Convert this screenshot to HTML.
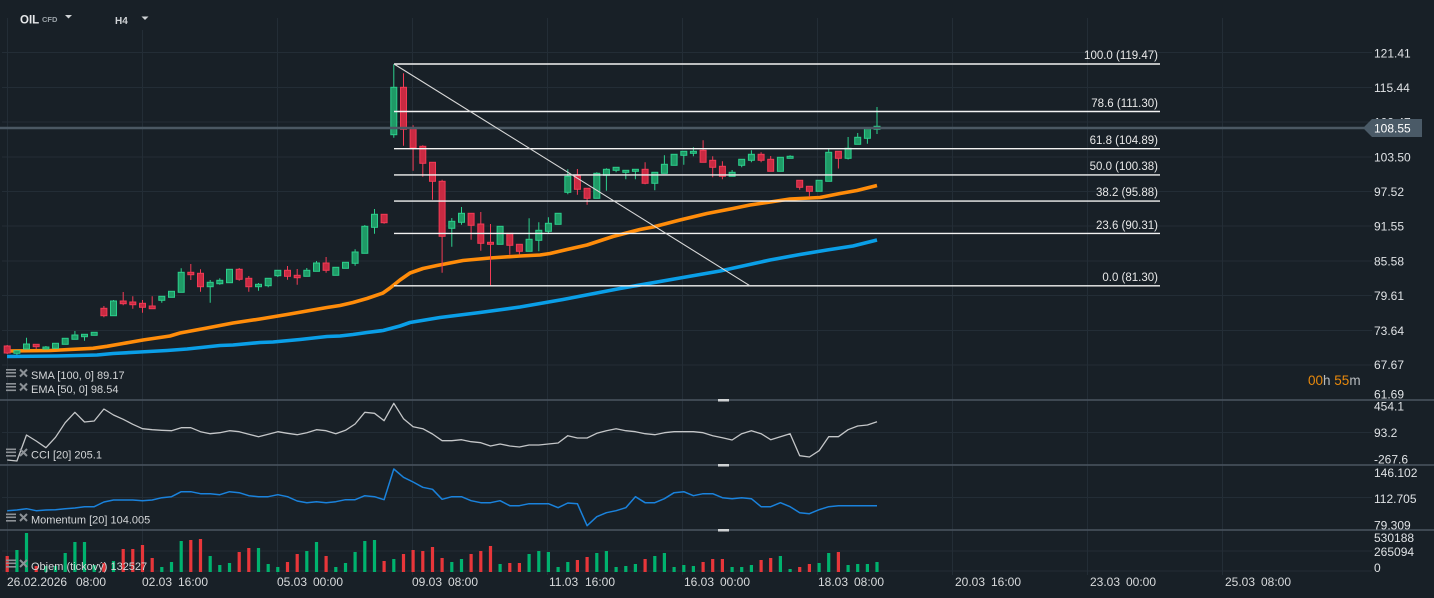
<!DOCTYPE html>
<html><head><meta charset="utf-8"><style>
html,body{margin:0;padding:0;background:#182027;width:1434px;height:598px;overflow:hidden}
svg{display:block;font-family:"Liberation Sans",Arial,sans-serif}
.g{fill:#1f9a66;stroke:#2ccf8c;stroke-width:1}
.r{fill:#c92a42;stroke:#f23b55;stroke-width:1}
.ax{fill:#dfe2e5;font-size:12px}
.fb{fill:#e8e8e8;font-size:11.5px;text-anchor:end}
.dl{fill:#d8dadc;font-size:12px}
.il{fill:#d4d6d8;font-size:11px}
</style></head><body>
<svg width="1434" height="598" viewBox="0 0 1434 598" xmlns="http://www.w3.org/2000/svg">
<rect width="1434" height="598" fill="#182027"/>
<!-- grid -->
<path stroke="#232d36" stroke-width="1" fill="none" d="M2 52.5H1372M2 87.5H1372M2 122H1372M2 157H1372M2 191.5H1372M2 226H1372M2 261H1372M2 295.5H1372M2 330.5H1372M2 365H1372M2 432.5H1372M2 497.5H1372M2 551H1372M2 571H1372
M7.5 18V575M142.5 30V575M277.5 18V575M412.5 18V575M547.5 18V575M682.5 18V575M817.5 18V575M952.5 18V575M1087.5 18V575M1222.5 18V575"/>
<!-- separators -->
<path stroke="#4a5560" stroke-width="1.5" d="M0 400H1434M0 465H1434M0 530H1434"/>
<rect x="718" y="399" width="11" height="2.5" fill="#cfd2d4"/>
<rect x="718" y="464" width="11" height="2.5" fill="#cfd2d4"/>
<rect x="718" y="529" width="11" height="2.5" fill="#cfd2d4"/>

<!-- SMA 100 blue -->
<polyline fill="none" stroke="#0a9fe8" stroke-width="3.6" stroke-linejoin="round" points="7,356.5 57,356 97,355 113,353.5 140,352 167,350.5 187,349 220,345.5 233,345 260,342.5 273,342 300,339.5 327,336.5 340,336 353,334.5 367,332.5 383,330.5 400,326 410,322.5 440,317.5 480,312.5 520,307 563,299.5 620,288.5 680,278 720,271 770,260 800,254.5 827,250 853,246 877,240"/>
<!-- EMA 50 orange -->
<polyline fill="none" stroke="#ff8c0a" stroke-width="3.6" stroke-linejoin="round" points="7,351 50,350.5 93,348.3 107,346.3 123,343.5 143,340 170,336 180,333 207,328 233,323 260,319 287,314.5 307,311 327,307.5 340,305.5 353,302.5 367,298.5 383,293 390,288 400,280 410,273 423,268.5 437,265.5 463,260.5 490,258 520,256 540,255 550,253.5 567,249.5 587,245 613,236.5 640,229.5 653,227 680,220 707,213.5 733,208.5 750,205 767,202.5 790,199 820,197.5 840,193.5 857,190.5 877,185.5"/>

<!-- wicks -->
<path fill="none" stroke="#2ccf8c" stroke-width="1" d="M16.9 350V355M26.5 337.7V349M45.9 346V349.5M55.5 343V348.5M65.2 338V344.5M74.9 331V339.5M84.5 334V340.7M94.2 332V335.5M113.5 300V316M161.8 296V302.7M171.5 291V297.5M181.2 268.3V292.5M210.2 280V302.7M219.8 278.3V284.7M229.5 269V283M258.5 283V290.7M268.2 278V287.3M277.8 270V277M306.8 268V276.5M316.5 261V271.5M335.8 267V275.5M345.5 262V268.5M355.1 249.3V265.7M364.8 225V253.5M374.5 209V233.7M393.8 64.3V137.7M451.8 218V246.7M461.5 207V224.7M500.1 226V244.5M529.1 218.3V251.5M538.8 222.3V251.3M548.4 217.3V233.3M558.1 213V224.5M567.8 169.3V194.3M596.8 172.3V198.5M606.4 168.3V190.7M616.1 167V172.3M625.8 170V179.3M635.4 169V179.3M654.8 172V190.3M664.4 155.3V173.5M674.1 154V165.5M683.8 151V164.7M693.4 147.3V156.3M732.1 170V176.5M741.7 159V167.3M751.4 150.3V162.3M780.4 157V171.5M790.1 155.3V158.5M819.1 180V191.5M828.7 148.3V181.5M848.1 137V159.5M857.7 133V144.5M867.4 128V143.7M877 107V134"/>
<path fill="none" stroke="#f23b55" stroke-width="1" d="M7.2 345V354M36.2 344V349M103.9 306V317.3M123.2 292V305.3M132.8 296.3V308.7M142.5 300V312.7M152.2 296.3V308.7M190.8 264V280M200.5 269.3V291.7M239.2 268V280.7M248.8 276V291.7M287.5 266V279.7M297.2 269V284.7M326.1 257V272.7M384.1 214V223.7M403.5 73.3V145.7M413.1 125.3V170.7M422.8 145.3V176.7M432.5 162V199.7M442.1 179.7V272.7M471.1 213V239.7M480.8 212V250.7M490.5 224V285.7M509.8 233V254.7M519.4 244V254.7M577.4 169V194.7M587.1 188V204.7M645.1 162.3V184.3M703.1 140.3V162.5M712.7 156.3V177.3M722.4 161.3V179.3M761.1 152.3V162.3M770.7 156V171.5M799.7 180V189.7M809.4 186V196.7M838.4 151V168.5"/>

<!-- bodies -->
<g>
<rect class="r" x="4.2" y="346" width="6" height="7"/>
<rect class="g" x="13.9" y="350.7" width="6" height="2.6"/>
<rect class="g" x="23.5" y="344" width="6" height="5"/>
<rect class="r" x="33.2" y="344.3" width="6" height="2.4"/>
<rect class="g" x="42.9" y="347" width="6" height="2"/>
<rect class="g" x="52.5" y="343.3" width="6" height="5"/>
<rect class="g" x="62.2" y="338.3" width="6" height="6"/>
<rect class="g" x="71.9" y="335" width="6" height="4.3"/>
<rect class="g" x="81.5" y="334.3" width="6" height="2.4"/>
<rect class="g" x="91.2" y="332.3" width="6" height="3"/>
<rect class="r" x="100.9" y="308.3" width="6" height="7.4"/>
<rect class="g" x="110.5" y="301" width="6" height="14.7"/>
<rect class="r" x="120.2" y="301" width="6" height="2.7"/>
<rect class="r" x="129.8" y="302" width="6" height="2.7"/>
<rect class="r" x="139.5" y="303.3" width="6" height="4"/>
<rect class="r" x="149.2" y="306" width="6" height="2.7"/>
<rect class="g" x="158.8" y="296.3" width="6" height="4"/>
<rect class="g" x="168.5" y="291.3" width="6" height="6"/>
<rect class="g" x="178.2" y="272.3" width="6" height="20"/>
<rect class="r" x="187.8" y="272.3" width="6" height="2.4"/>
<rect class="r" x="197.5" y="273.3" width="6" height="13.4"/>
<rect class="g" x="207.2" y="282.3" width="6" height="4.4"/>
<rect class="g" x="216.8" y="280.3" width="6" height="3.4"/>
<rect class="g" x="226.5" y="269.3" width="6" height="13.4"/>
<rect class="r" x="236.2" y="269.3" width="6" height="10"/>
<rect class="r" x="245.8" y="278.3" width="6" height="8.4"/>
<rect class="g" x="255.5" y="284.3" width="6" height="2.4"/>
<rect class="g" x="265.2" y="278.3" width="6" height="7.4"/>
<rect class="g" x="274.8" y="270.3" width="6" height="5.4"/>
<rect class="r" x="284.5" y="270.3" width="6" height="6"/>
<rect class="r" x="294.2" y="275.3" width="6" height="2.4"/>
<rect class="g" x="303.8" y="270.3" width="6" height="6"/>
<rect class="g" x="313.5" y="263" width="6" height="8.3"/>
<rect class="r" x="323.1" y="263" width="6" height="7.3"/>
<rect class="g" x="332.8" y="267.3" width="6" height="8"/>
<rect class="g" x="342.5" y="262.3" width="6" height="6"/>
<rect class="g" x="352.1" y="252" width="6" height="11.3"/>
<rect class="g" x="361.8" y="226.3" width="6" height="27"/>
<rect class="g" x="371.5" y="214.3" width="6" height="13"/>
<rect class="r" x="381.1" y="214.3" width="6" height="8.4"/>
<rect class="g" x="390.8" y="87.3" width="6" height="47.4"/>
<rect class="r" x="400.5" y="87.3" width="6" height="42"/>
<rect class="r" x="410.1" y="128.7" width="6" height="19"/>
<rect class="r" x="419.8" y="146.3" width="6" height="17"/>
<rect class="r" x="429.5" y="162.3" width="6" height="19"/>
<rect class="r" x="439.1" y="181.3" width="6" height="55"/>
<rect class="g" x="448.8" y="221.3" width="6" height="7"/>
<rect class="g" x="458.5" y="213.3" width="6" height="9"/>
<rect class="r" x="468.1" y="213.3" width="6" height="12"/>
<rect class="r" x="477.8" y="224" width="6" height="19.3"/>
<rect class="r" x="487.5" y="242.3" width="6" height="2"/>
<rect class="g" x="497.1" y="226.3" width="6" height="18"/>
<rect class="r" x="506.8" y="233.3" width="6" height="12"/>
<rect class="r" x="516.4" y="244.3" width="6" height="7"/>
<rect class="g" x="526.1" y="239.3" width="6" height="12"/>
<rect class="g" x="535.8" y="230.3" width="6" height="10"/>
<rect class="g" x="545.4" y="223.3" width="6" height="8"/>
<rect class="g" x="555.1" y="213.3" width="6" height="11"/>
<rect class="g" x="564.8" y="176.3" width="6" height="16"/>
<rect class="r" x="574.4" y="176" width="6" height="13.3"/>
<rect class="r" x="584.1" y="188.3" width="6" height="10"/>
<rect class="g" x="593.8" y="173.3" width="6" height="25"/>
<rect class="g" x="603.4" y="169.3" width="6" height="6"/>
<rect class="g" x="613.1" y="167.3" width="6" height="3"/>
<rect class="g" x="622.8" y="170.3" width="6" height="2"/>
<rect class="g" x="632.4" y="169.3" width="6" height="2"/>
<rect class="r" x="642.1" y="169.3" width="6" height="14"/>
<rect class="g" x="651.8" y="172.3" width="6" height="11"/>
<rect class="g" x="661.4" y="164.3" width="6" height="9"/>
<rect class="g" x="671.1" y="154.3" width="6" height="11"/>
<rect class="g" x="680.8" y="151.3" width="6" height="4"/>
<rect class="g" x="690.4" y="151.3" width="6" height="2"/>
<rect class="r" x="700.1" y="150.3" width="6" height="12"/>
<rect class="r" x="709.7" y="160.3" width="6" height="7"/>
<rect class="r" x="719.4" y="166.3" width="6" height="10"/>
<rect class="g" x="729.1" y="172.3" width="6" height="4"/>
<rect class="g" x="738.7" y="159.3" width="6" height="6"/>
<rect class="g" x="748.4" y="154.3" width="6" height="6"/>
<rect class="r" x="758.1" y="154.3" width="6" height="6"/>
<rect class="r" x="767.7" y="159.3" width="6" height="12"/>
<rect class="g" x="777.4" y="157.3" width="6" height="14"/>
<rect class="g" x="787.1" y="156.3" width="6" height="2"/>
<rect class="r" x="796.7" y="180.3" width="6" height="7"/>
<rect class="r" x="806.4" y="186.3" width="6" height="5"/>
<rect class="g" x="816.1" y="180.3" width="6" height="11"/>
<rect class="g" x="825.7" y="152.3" width="6" height="29"/>
<rect class="r" x="835.4" y="151.3" width="6" height="7"/>
<rect class="g" x="845.1" y="148.3" width="6" height="10"/>
<rect class="g" x="854.7" y="137.3" width="6" height="7"/>
<rect class="g" x="864.4" y="128.3" width="6" height="10"/>
<rect class="g" x="874" y="126.3" width="6" height="3"/>
</g>

<!-- current price line -->
<path stroke="#4b5863" stroke-width="2.6" d="M0 128H1364"/>

<!-- fibonacci -->
<path stroke="#f2f2f2" stroke-width="1.4" fill="none" d="M394 64H1160M394 111.5H1160M394 148.7H1160M394 174.9H1160M394 201.1H1160M394 233.4H1160M394 285.8H1160"/>
<path stroke="#d8d8d8" stroke-width="1.1" fill="none" d="M394 64L750 285.8"/>
<text class="fb" x="1158" y="59">100.0 (119.47)</text>
<text class="fb" x="1158" y="107">78.6 (111.30)</text>
<text class="fb" x="1158" y="144">61.8 (104.89)</text>
<text class="fb" x="1158" y="170">50.0 (100.38)</text>
<text class="fb" x="1158" y="196">38.2 (95.88)</text>
<text class="fb" x="1158" y="229">23.6 (90.31)</text>
<text class="fb" x="1158" y="281">0.0 (81.30)</text>

<!-- CCI -->
<polyline fill="none" stroke="#c4c6c8" stroke-width="1.3" stroke-linejoin="round" points="7.2,460 16.9,461 26.5,435 36.2,441 45.9,447.7 55.5,437.3 65.2,422.7 74.9,412.3 84.5,422 94.2,421 103.9,409 113.5,415 123.2,419.3 132.8,424.3 142.5,428.7 152.2,429.7 161.8,430.3 171.5,430.7 181.2,427.7 190.8,427.7 200.5,431.7 210.2,433.7 219.8,432.7 229.5,430.7 239.2,431.7 248.8,434.3 258.5,436.7 268.2,434.3 277.8,431.7 287.5,433.3 297.2,434.7 306.8,432.7 316.5,429.7 326.1,430.7 335.8,433.7 345.5,430.3 355.1,424 364.8,412.3 374.5,413.3 384.1,420.7 393.8,403.3 403.5,418.7 413.1,426.7 422.8,428.7 432.5,434 442.1,440.7 451.8,440.7 461.5,439.7 471.1,441.7 480.8,442.7 490.5,446 500.1,444 509.8,446 519.4,447 529.1,445 538.8,445 548.4,444 558.1,443 567.8,435.7 577.4,438 587.1,438 596.8,433.3 606.4,430.7 616.1,428.7 625.8,430.7 635.4,431.7 645.1,433.7 654.8,434.7 664.4,432.7 674.1,431.7 683.8,431.7 693.4,431.7 703.1,432.7 712.7,435.7 722.4,437.7 732.1,440 741.7,433.7 751.4,430.7 761.1,433.7 770.7,439.7 780.4,436.7 790.1,433.7 799.7,455.7 809.4,457 819.1,450.7 828.7,436.7 838.4,436.7 848.1,429.7 857.7,426 867.4,425 877,421.7"/>

<!-- Momentum -->
<polyline fill="none" stroke="#1a82dc" stroke-width="1.5" stroke-linejoin="round" points="7.2,510.7 16.9,510 26.5,508.7 36.2,510.7 45.9,510 55.5,509.7 65.2,508.7 74.9,508 84.5,506.7 94.2,506.7 103.9,502 113.5,500 123.2,500 132.8,500 142.5,500.7 152.2,500 161.8,497.7 171.5,496.7 181.2,491.7 190.8,491.7 200.5,493.7 210.2,493.7 219.8,494.7 229.5,491.7 239.2,492.7 248.8,495.7 258.5,496.7 268.2,496.7 277.8,494.7 287.5,496.7 297.2,501 306.8,502.7 316.5,501.7 326.1,502.7 335.8,501.7 345.5,499.7 355.1,499.7 364.8,495.7 374.5,496.7 384.1,499.7 393.8,469 403.5,477.3 413.1,482 422.8,487.3 432.5,489.3 442.1,499.3 451.8,496.7 461.5,496.7 471.1,500.7 480.8,502.7 490.5,502.7 500.1,500.7 509.8,505.7 519.4,505.7 529.1,503.7 538.8,503.7 548.4,503.7 558.1,507.7 567.8,503 577.4,503.7 587.1,525.7 596.8,516.7 606.4,512.7 616.1,510.7 625.8,507.7 635.4,496.7 645.1,502.7 654.8,502.7 664.4,498.7 674.1,492.7 683.8,491.7 693.4,495.7 703.1,493.7 712.7,493.7 722.4,497.7 732.1,498.7 741.7,497.7 751.4,498.7 761.1,506.7 770.7,506.7 780.4,502.7 790.1,506.7 799.7,512.7 809.4,513.7 819.1,509.7 828.7,506.7 838.4,505.7 848.1,505.7 857.7,505.7 867.4,505.7 877,505.7"/>

<!-- Volume -->
<path fill="none" stroke="#00b26e" stroke-width="3.2" d="M16.9 550V572M26.5 533V572M45.9 566V572M55.5 566V572M65.2 553V572M74.9 542V572M84.5 542V572M94.2 565V572M113.5 561V572M161.8 567V572M171.5 562V572M181.2 541V572M210.2 556V572M219.8 565V572M229.5 563V572M258.5 548V572M268.2 564V572M277.8 567V572M306.8 551V572M316.5 542V572M335.8 567V572M345.5 563V572M355.1 552V572M364.8 541V572M374.5 540V572M393.8 559V572M451.8 562V572M461.5 559V572M500.1 564V572M529.1 554V572M538.8 551V572M548.4 552V572M558.1 567V572M567.8 562V572M596.8 553V572M606.4 551V572M616.1 567V572M625.8 566V572M635.4 564V572M654.8 556V572M664.4 553V572M674.1 567V572M683.8 565V572M693.4 566V572M732.1 567V572M741.7 567V572M751.4 565V572M780.4 556V572M790.1 569V572M819.1 563V572M828.7 553V572M848.1 565V572M857.7 564V572M867.4 564V572M877 562V572"/>
<path fill="none" stroke="#e8363a" stroke-width="3.2" d="M7.2 556V572M36.2 566V572M103.9 563V572M123.2 549V572M132.8 549V572M142.5 545V572M152.2 558V572M190.8 540V572M200.5 539V572M239.2 552V572M248.8 548V572M287.5 562V572M297.2 554V572M326.1 556V572M384.1 561V572M403.5 554V572M413.1 550V572M422.8 551V572M432.5 547V572M442.1 558V572M471.1 554V572M480.8 551V572M490.5 546V572M509.8 563V572M519.4 563V572M577.4 560V572M587.1 557V572M645.1 559V572M703.1 562V572M712.7 559V572M722.4 559V572M761.1 560V572M770.7 558V572M799.7 567V572M809.4 564V572M838.4 552V572"/>

<!-- price axis -->
<text class="ax" x="1374" y="57.5">121.41</text>
<text class="ax" x="1374" y="92">115.44</text>
<text class="ax" x="1374" y="126.5">109.47</text>
<text class="ax" x="1374" y="161.3">103.50</text>
<text class="ax" x="1374" y="196">97.52</text>
<text class="ax" x="1374" y="230.7">91.55</text>
<text class="ax" x="1374" y="265.4">85.58</text>
<text class="ax" x="1374" y="300">79.61</text>
<text class="ax" x="1374" y="334.8">73.64</text>
<text class="ax" x="1374" y="369">67.67</text>
<text class="ax" x="1374" y="398.5">61.69</text>
<polygon points="1363,128 1372,119 1422,119 1422,137 1372,137" fill="#4a5a67"/>
<text x="1374" y="132.5" fill="#ffffff" font-size="12px">108.55</text>

<text class="ax" x="1374" y="410.5">454.1</text>
<text class="ax" x="1374" y="437">93.2</text>
<text class="ax" x="1374" y="463.5">-267.6</text>
<text class="ax" x="1374" y="477">146.102</text>
<text class="ax" x="1374" y="503">112.705</text>
<text class="ax" x="1374" y="529.5">79.309</text>
<text class="ax" x="1374" y="542">530188</text>
<text class="ax" x="1374" y="556">265094</text>
<text class="ax" x="1374" y="572">0</text>

<!-- countdown -->
<text x="1308" y="385" font-size="13.5px"><tspan fill="#e8890c">00</tspan><tspan fill="#b8bcc0">h </tspan><tspan fill="#e8890c">55</tspan><tspan fill="#b8bcc0">m</tspan></text>

<!-- date axis -->
<text class="dl" x="7" y="586">26.02.2026</text><text class="dl" x="76" y="586">08:00</text>
<text class="dl" x="142" y="586">02.03</text><text class="dl" x="178" y="586">16:00</text>
<text class="dl" x="277" y="586">05.03</text><text class="dl" x="313" y="586">00:00</text>
<text class="dl" x="412" y="586">09.03</text><text class="dl" x="448" y="586">08:00</text>
<text class="dl" x="549" y="586">11.03</text><text class="dl" x="585" y="586">16:00</text>
<text class="dl" x="684" y="586">16.03</text><text class="dl" x="720" y="586">00:00</text>
<text class="dl" x="818" y="586">18.03</text><text class="dl" x="854" y="586">08:00</text>
<text class="dl" x="955" y="586">20.03</text><text class="dl" x="991" y="586">16:00</text>
<text class="dl" x="1090" y="586">23.03</text><text class="dl" x="1126" y="586">00:00</text>
<text class="dl" x="1225" y="586">25.03</text><text class="dl" x="1261" y="586">08:00</text>

<!-- header -->
<text x="20" y="23.3" fill="#e6e8ea" font-size="11.5px" font-weight="bold">OIL</text>
<text x="42" y="22" fill="#9aa2a8" font-size="7.5px" font-weight="bold">CFD</text>
<polygon points="65,15 72,15 68.5,18.5" fill="#d0d3d6"/>
<text x="115" y="24" fill="#d0d3d6" font-size="10px" font-weight="bold">H4</text>
<polygon points="141.5,16.5 148.5,16.5 145,20" fill="#d0d3d6"/>

<!-- indicator labels -->
<g fill="#8c9196">
<rect x="6" y="369" width="10" height="1.6"/><rect x="6" y="372" width="10" height="1.6"/><rect x="6" y="375.5" width="10" height="1.6"/>
<rect x="6" y="383" width="10" height="1.6"/><rect x="6" y="386" width="10" height="1.6"/><rect x="6" y="389.5" width="10" height="1.6"/>
<rect x="6" y="448.5" width="10" height="1.6"/><rect x="6" y="451.5" width="10" height="1.6"/><rect x="6" y="455" width="10" height="1.6"/>
<rect x="6" y="513.5" width="10" height="1.6"/><rect x="6" y="516.5" width="10" height="1.6"/><rect x="6" y="520" width="10" height="1.6"/>
<rect x="6" y="559.5" width="10" height="1.6"/><rect x="6" y="562.5" width="10" height="1.6"/><rect x="6" y="566" width="10" height="1.6"/>
</g>
<path stroke="#8c9196" stroke-width="2" d="M20 369.5L27 376.5M27 369.5L20 376.5M20 383.5L27 390.5M27 383.5L20 390.5M20 449L27 456M27 449L20 456M20 514L27 521M27 514L20 521M20 560L27 567M27 560L20 567"/>
<text class="il" x="31" y="379">SMA [100,  0] 89.17</text>
<text class="il" x="31" y="393">EMA [50,  0] 98.54</text>
<text class="il" x="31" y="458.5">CCI  [20]  205.1</text>
<text class="il" x="31" y="523.5">Momentum  [20]  104.005</text>
<text class="il" x="31" y="570">Objem  (tickový)  132527</text>
</svg>
</body></html>
